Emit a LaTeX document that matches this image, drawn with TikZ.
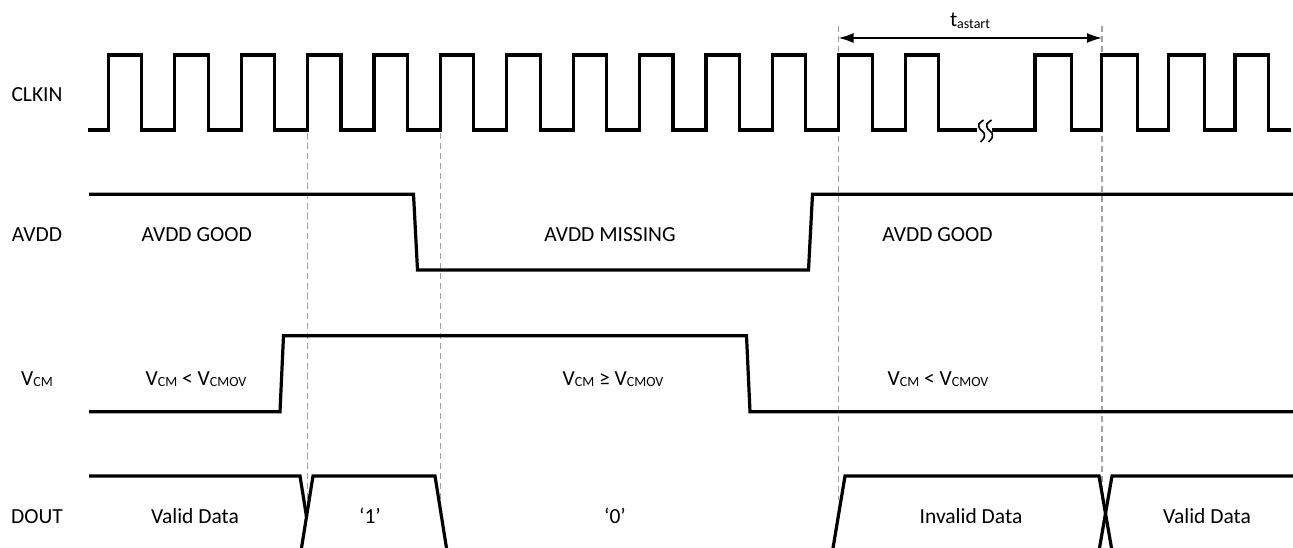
\documentclass[tikz,border=0pt]{standalone}
\usepackage{fontspec}
\setmainfont{Carlito}
\usetikzlibrary{arrows.meta}
\newcommand{\sbs}[1]{\raisebox{-1.5pt}{\fontsize{14}{14}\selectfont #1}}
\begin{document}
\begin{tikzpicture}[x=1pt,y=-1pt,
  sig/.style={line width=3.2pt, line join=miter, line cap=butt},
  guide/.style={gray!75, line width=1.2pt, dash pattern=on 6pt off 4pt},
  lbl/.style={anchor=base, inner sep=0pt, font=\fontsize{21.5}{25}\selectfont},
  brk/.style={line width=1.6pt},
  dim/.style={line width=1.8pt, {Latex[length=15pt,width=10pt]}-{Latex[length=15pt,width=10pt]}}
]
\useasboundingbox (0,0) rectangle (1293,548);

% guide lines
\draw[guide] (307.5,133) -- (307.5,500);
\draw[guide] (440.3,133) -- (440.3,500);
\draw[guide] (838.5,26) -- (838.5,500);
\draw[guide] (1102,26) -- (1102,500);

% t_astart
\coordinate (ta) at (838.5,38);
\coordinate (tb) at (1102,38);
\draw[dim] (ta) -- (tb);
\node[lbl] (tlab) at (970,27) {t\sbs{astart}};

% CLKIN
\draw[sig] (88,130) foreach \r in {108.3,174.7,241.1,307.5,373.9,440.3,506.7,573.1,639.5,705.9,772.3,838.7,905.1} { -- (\r,130) -- (\r,55) -- ({\r+33.4},55) -- ({\r+33.4},130) } -- (977,130);
\draw[sig] (992,130) -- (1035,130) -- (1035,55) -- (1071.7,55) -- (1071.7,130) -- (1101.7,130) -- (1101.7,55) -- (1137.7,55) -- (1137.7,130) -- (1168.3,130) -- (1168.3,55) -- (1204.3,55) -- (1204.3,130) -- (1235,130) -- (1235,55) -- (1268.3,55) -- (1268.3,130) -- (1291,130);
\draw[brk] plot[smooth] coordinates {(983.5,120) (979,124) (979.5,128.5) (984,133) (984,138) (980.5,142)};
\draw[brk] plot[smooth] coordinates {(991.5,120) (987,124) (987.5,128.5) (992,133) (992,138) (988.5,142)};

% AVDD
\draw[sig] (89,194.3) -- (413.5,194.3) -- (417.5,270) -- (808.5,270) -- (812.5,194.3) -- (1293,194.3);

% VCM
\draw[sig] (89,411.7) -- (280,411.7) -- (283.5,335.7) -- (746.5,335.7) -- (750,411.7) -- (1293,411.7);

% DOUT
\draw[sig] (89,476) -- (300,476) -- (306.5,516.6);
\draw[sig] (301.5,548) -- (313,476) -- (435,476) -- (446.5,548);
\draw[sig] (833,548) -- (845,476) -- (1099,476) -- (1111.5,548);
\draw[sig] (1099.5,548) -- (1112,476) -- (1293,476);

% row names
\node[lbl] (nclk) at (37,102) {CLKIN};
\node[lbl] (navdd) at (37,241) {AVDD};
\node[lbl] (nvcm) at (37,385) {V\sbs{CM}};
\node[lbl] (ndout) at (37,523.5) {DOUT};

% AVDD labels
\node[lbl] (a1) at (196.7,241) {AVDD GOOD};
\node[lbl] (a2) at (610,241) {AVDD MISSING};
\node[lbl] (a3) at (937.5,241) {AVDD GOOD};

% VCM labels
\node[lbl] (v1) at (196,385) {V\sbs{CM} < V\sbs{CMOV}};
\node[lbl] (v2) at (613,385) {V\sbs{CM} ≥ V\sbs{CMOV}};
\node[lbl] (v3) at (938,385) {V\sbs{CM} < V\sbs{CMOV}};

% DOUT labels
\node[lbl] (d1) at (195,523.5) {Valid Data};
\node[lbl] (d2) at (370,523.5) {‘1’};
\node[lbl] (d3) at (615,523.5) {‘0’};
\node[lbl] (d4) at (971,523.5) {Invalid Data};
\node[lbl] (d5) at (1207,523.5) {Valid Data};
\end{tikzpicture}
\end{document}
